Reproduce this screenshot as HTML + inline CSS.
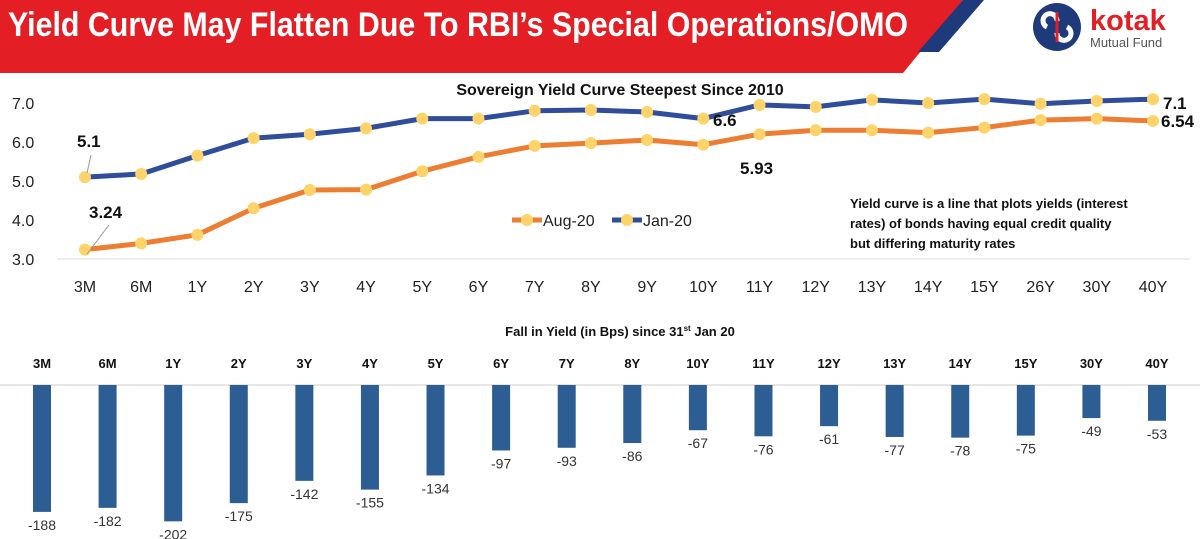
<!DOCTYPE html>
<html><head><meta charset="utf-8"><style>
body{margin:0;width:1200px;height:539px;overflow:hidden;background:#fff;font-family:"Liberation Sans",sans-serif}
svg{display:block}
</style></head><body>
<svg id="s" width="1200" height="539" xmlns="http://www.w3.org/2000/svg">
<polygon points="0,0 963,0 903,73 0,73" fill="#e31e24"/>
<polygon points="963,0 984,0 939,52 918,52" fill="#1f3a7a"/>
<text x="8" y="36" font-size="34" font-weight="bold" fill="#fff" font-family="Liberation Sans Narrow, Liberation Sans, sans-serif" textLength="900" lengthAdjust="spacingAndGlyphs">Yield Curve May Flatten Due To RBI’s Special Operations/OMO</text>
<g>
<circle cx="1057" cy="27" r="24" fill="#1f3a7a"/>
<path d="M1047,27 a7,7 0 1,1 10,-6 M1067,27 a7,7 0 1,1 -10,6" stroke="#fff" stroke-width="5" fill="none"/>
<line x1="1057" y1="12" x2="1057" y2="42" stroke="#e31e24" stroke-width="3"/>
<text x="1090" y="30" font-size="29" font-weight="bold" fill="#e31e24">kotak</text>
<text x="1090" y="47" font-size="13" fill="#555">Mutual Fund</text>
</g>
<text x="620" y="95" font-size="16" font-weight="bold" text-anchor="middle" fill="#111">Sovereign Yield Curve Steepest Since 2010</text>
<g id="lc"></g>
<text x="620" y="336" font-size="13" font-weight="bold" text-anchor="middle" fill="#111">Fall in Yield (in Bps) since 31<tspan font-size="8" dy="-5">st</tspan><tspan dy="5"> Jan 20</tspan></text>
<g id="bc"></g>
<g font-size="13" font-weight="bold" fill="#111">
<text x="850" y="208">Yield curve is a line that plots yields (interest</text>
<text x="850" y="228">rates) of bonds having equal credit quality</text>
<text x="850" y="248">but differing maturity rates</text>
</g>
</svg>
<script>
const cats=["3M","6M","1Y","2Y","3Y","4Y","5Y","6Y","7Y","8Y","9Y","10Y","11Y","12Y","13Y","14Y","15Y","26Y","30Y","40Y"];
const jan20=[5.1,5.18,5.65,6.1,6.2,6.35,6.6,6.6,6.8,6.82,6.77,6.6,6.95,6.9,7.08,7.0,7.1,6.98,7.05,7.1];
const aug20=[3.24,3.4,3.62,4.3,4.77,4.78,5.25,5.62,5.9,5.97,6.05,5.93,6.2,6.3,6.3,6.24,6.37,6.56,6.6,6.54];
const yTicks=[3,4,5,6,7];
const barCats=["3M","6M","1Y","2Y","3Y","4Y","5Y","6Y","7Y","8Y","10Y","11Y","12Y","13Y","14Y","15Y","30Y","40Y"];
const barVals=[-188,-182,-202,-175,-142,-155,-134,-97,-93,-86,-67,-76,-61,-77,-78,-75,-49,-53];
const NS="http://www.w3.org/2000/svg";
function mk(p,t,a,txt){const e=document.createElementNS(NS,t);for(const k in a)e.setAttribute(k,a[k]);if(txt!==undefined)e.textContent=txt;p.appendChild(e);return e;}
const lc=document.getElementById('lc'),bc=document.getElementById('bc');
const x=i=>85+i*(1153-85)/(cats.length-1);
const y=v=>259-(v-3)*39;
yTicks.forEach(t=>{const e=mk(lc,'text',{x:12,y:y(t)+6,'font-size':16,fill:'#222'},t.toFixed(1));

});
const base=mk(lc,'line',{x1:57,y1:y(3),x2:1190,y2:y(3),stroke:'#ddd','stroke-width':1});


cats.forEach((c,i)=>{const e=mk(lc,'text',{x:x(i),y:292,'font-size':16,fill:'#222','text-anchor':'middle'},c);

});
[[aug20,'#ed7d31','aug-20-line'],[jan20,'#2f4d9a','jan-20-line']].forEach(([d,col,n])=>{
const pl=mk(lc,'polyline',{points:d.map((v,i)=>x(i)+','+y(v)).join(' '),fill:'none',stroke:col,'stroke-width':5,'stroke-linejoin':'round'});


d.forEach((v,i)=>{const c=mk(lc,'circle',{cx:x(i),cy:y(v),r:6,fill:'#fdd36a'});

});
});
function lab(t,xx,yy,a){const e=mk(lc,'text',{x:xx,y:yy,'font-size':17,'font-weight':'bold',fill:'#111','text-anchor':a||'start'},t);

}
lab(jan20[0],77,147);lab(aug20[0],89,218);
mk(lc,'line',{x1:87,y1:173,x2:91,y2:155,stroke:'#999'});
mk(lc,'line',{x1:87,y1:254,x2:109,y2:225,stroke:'#999'});
lab(jan20[11],713,126);lab(aug20[11],740,174);
lab(jan20[19],1163,109);lab(aug20[19],1161,127);
const lg=[['Aug-20','#ed7d31',512],['Jan-20','#2f4d9a',612]];
lg.forEach(([t,c,lx])=>{const g=mk(lc,'g',{});


mk(g,'line',{x1:lx,y1:220,x2:lx+30,y2:220,stroke:c,'stroke-width':5});
mk(g,'circle',{cx:lx+15,cy:220,r:6,fill:'#fdd36a'});
mk(g,'text',{x:lx+31,y:226,'font-size':16,fill:'#222'},t);});
const bx=i=>42+i*(1157-42)/(barCats.length-1);
const by0=385,bs=0.675;
mk(bc,'line',{x1:0,y1:by0,x2:1200,y2:by0,stroke:'#ccc'});
barCats.forEach((c,i)=>{
const t=mk(bc,'text',{x:bx(i),y:368,'font-size':13,'font-weight':'bold','text-anchor':'middle',fill:'#111'},c);


const h=-barVals[i]*bs;
const r=mk(bc,'rect',{x:bx(i)-9,y:by0,width:18,height:h,fill:'#2c5d93'});


const v=mk(bc,'text',{x:bx(i),y:by0+h+18,'font-size':14,'text-anchor':'middle',fill:'#333'},barVals[i]);


});
</script>
</body></html>
